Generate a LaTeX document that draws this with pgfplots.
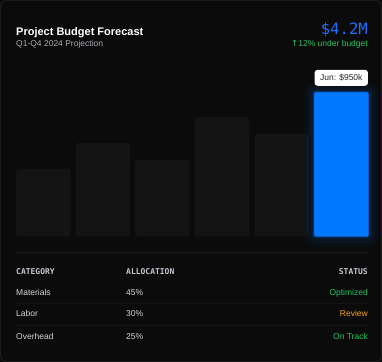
\documentclass[border=0pt]{standalone}
\usepackage{fontspec}
\setmainfont{Liberation Sans}
\newfontfamily\monof{DejaVu Sans Mono}
\newfontfamily\symf{DejaVu Sans}
\usepackage{pgfplots}
\pgfplotsset{compat=1.18}
\definecolor{cardbg}{HTML}{0B0B0B}
\definecolor{cardborder}{HTML}{1C1C1C}
\definecolor{bargray}{HTML}{141414}
\definecolor{barblue}{HTML}{0078FF}
\definecolor{barblueedge}{HTML}{0A5CC8}
\definecolor{bigblue}{HTML}{1E6EFF}
\definecolor{okgreen}{HTML}{22C55E}
\definecolor{warnorange}{HTML}{F59E0B}
\definecolor{subgray}{HTML}{A8A8B0}
\definecolor{bodytext}{HTML}{D4D4D8}
\definecolor{hdrtext}{HTML}{C4C8D0}
\definecolor{divider}{HTML}{1E1E1E}
\definecolor{rowsep}{HTML}{161616}
\begin{document}
\begin{tikzpicture}[x=1bp,y=1bp]
\fill[cardbg] (0,0) rectangle (382,362);
\draw[cardborder, line width=1bp, rounded corners=6bp] (0.5,0.5) rectangle (381.5,361.5);
\begin{axis}[
  at={(13.5bp,125.3bp)}, anchor=south west,
  scale only axis, width=357.6bp, height=152.3bp,
  xmin=-0.5, xmax=5.5, ymin=0, ymax=1000,
  hide axis, clip=false]
\addplot[ybar, bar width=54.5bp, bar shift=0pt, fill=bargray, draw=none, rounded corners=3bp]
  coordinates {(0,445) (1,615) (2,505) (3,785) (4,675)};
% glow layers around the highlighted bar
\addplot[fill=barblue, fill opacity=0.04, draw=none, rounded corners=8bp]
  coordinates {(4.39,-70) (5.61,-70) (5.61,1010) (4.39,1010)} -- cycle;
\addplot[fill=barblue, fill opacity=0.06, draw=none, rounded corners=6bp]
  coordinates {(4.44,-40) (5.56,-40) (5.56,985) (4.44,985)} -- cycle;
\addplot[fill=barblue, fill opacity=0.09, draw=none, rounded corners=4bp]
  coordinates {(4.49,-15) (5.51,-15) (5.51,965) (4.49,965)} -- cycle;
\addplot[ybar, bar width=54.5bp, bar shift=0pt, fill=barblue, draw=barblueedge, line width=0.8bp, rounded corners=1.5bp]
  coordinates {(5,950)};
\node[fill=white, rounded corners=3bp, text=black!85, font=\fontsize{8.5bp}{10bp}\selectfont,
  inner xsep=5.5bp, inner ysep=0pt, minimum height=16bp, anchor=south, yshift=6bp]
  at (axis cs:5,950) {Jun: \$950k};
\end{axis}
% header
\node[anchor=base west, inner sep=0, text=white, font=\bfseries\fontsize{11bp}{13bp}\selectfont] at (16,327) {Project Budget Forecast};
\node[anchor=base west, inner sep=0, text=subgray, font=\fontsize{8.5bp}{10bp}\selectfont] at (16,315.3) {Q1-Q4 2024 Projection};
\node[anchor=base east, inner sep=0, text=bigblue, font=\monof\fontsize{15.6bp}{18bp}\selectfont] at (368,328) {\$4.2M};
\node[anchor=base east, inner sep=0, text=okgreen, font=\fontsize{8.5bp}{10bp}\selectfont] at (368,315.3) {{\symf\fontsize{8.5bp}{10bp}\selectfont ↑}12\% under budget};
% divider
\draw[divider, line width=1bp] (16,109) -- (368,109);
% table header
\node[anchor=base west, inner sep=0, text=hdrtext, font=\monof\bfseries\fontsize{8bp}{10bp}\selectfont] at (16,87.7) {CATEGORY};
\node[anchor=base west, inner sep=0, text=hdrtext, font=\monof\bfseries\fontsize{8bp}{10bp}\selectfont] at (126,87.7) {ALLOCATION};
\node[anchor=base east, inner sep=0, text=hdrtext, font=\monof\bfseries\fontsize{8bp}{10bp}\selectfont] at (368,87.7) {STATUS};
% rows
\node[anchor=base west, inner sep=0, text=bodytext, font=\fontsize{8.5bp}{10bp}\selectfont] at (16,67) {Materials};
\node[anchor=base west, inner sep=0, text=bodytext, font=\fontsize{8.5bp}{10bp}\selectfont] at (126,67) {45\%};
\node[anchor=base east, inner sep=0, text=okgreen, font=\fontsize{8.5bp}{10bp}\selectfont] at (368,67) {Optimized};
\draw[rowsep, line width=0.8bp] (16,58.7) -- (368,58.7);
\node[anchor=base west, inner sep=0, text=bodytext, font=\fontsize{8.5bp}{10bp}\selectfont] at (16,45.3) {Labor};
\node[anchor=base west, inner sep=0, text=bodytext, font=\fontsize{8.5bp}{10bp}\selectfont] at (126,45.3) {30\%};
\node[anchor=base east, inner sep=0, text=warnorange, font=\fontsize{8.5bp}{10bp}\selectfont] at (368,45.3) {Review};
\draw[rowsep, line width=0.8bp] (16,36.7) -- (368,36.7);
\node[anchor=base west, inner sep=0, text=bodytext, font=\fontsize{8.5bp}{10bp}\selectfont] at (16,23) {Overhead};
\node[anchor=base west, inner sep=0, text=bodytext, font=\fontsize{8.5bp}{10bp}\selectfont] at (126,23) {25\%};
\node[anchor=base east, inner sep=0, text=okgreen, font=\fontsize{8.5bp}{10bp}\selectfont] at (368,23) {On Track};
\end{tikzpicture}
\end{document}
